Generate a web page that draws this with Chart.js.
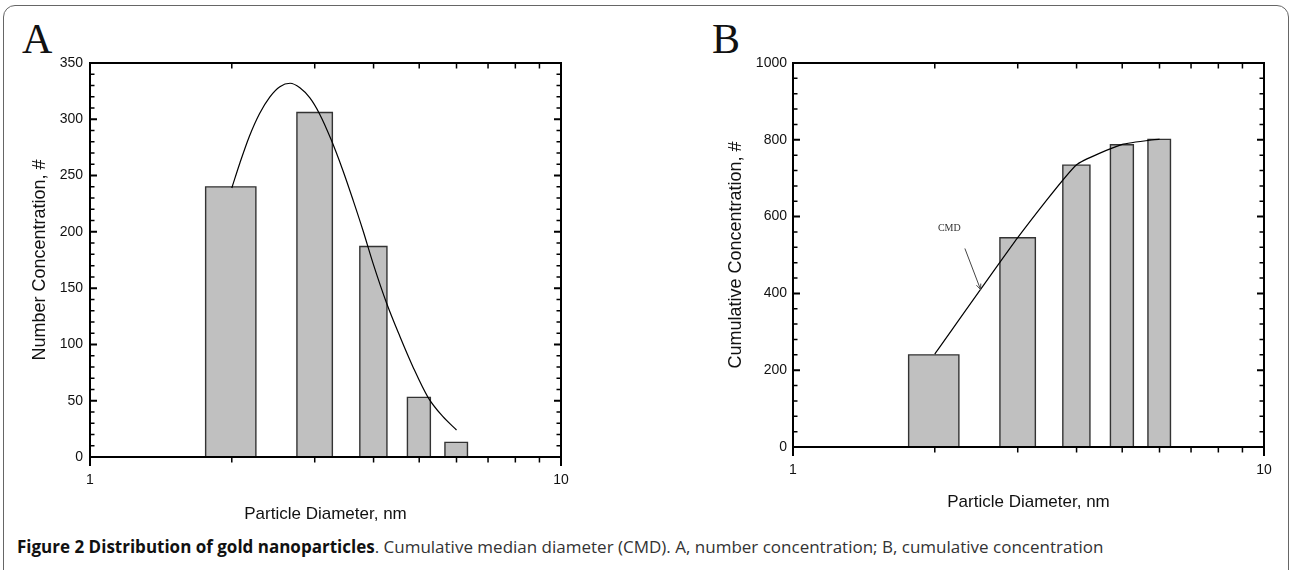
<!DOCTYPE html>
<html>
<head>
<meta charset="utf-8">
<script src="https://cdn.jsdelivr.net/npm/chart.js@4.4.0/dist/chart.umd.min.js"></script>
<style>
    html, body { margin: 0; padding: 0; background: #fff; }
    body { width: 1290px; height: 570px; position: relative; overflow: hidden; }
    .frame {
        position: absolute; left: 3px; top: 5px; width: 1286px; height: 600px;
        border: 1px solid #666; border-radius: 12px; box-sizing: border-box;
    }
    .panel { position: absolute; top: 0; }
    .letter {
        position: absolute; font-family: 'Liberation Serif', 'Times New Roman', serif;
        font-size: 42px; line-height: 42px; color: #111;
    }
    .caption {
        position: absolute; left: 17px; top: 537px; white-space: nowrap;
        font-family: 'Open Sans', sans-serif; font-size: 17px; line-height: 20px; color: #333;
    }
    .caption b { color: #111; }
</style>
</head>
<body>
<div class="frame"></div>
<div class="letter" style="left:22px; top:18px;">A</div>
<div class="letter" style="left:712px; top:18px;">B</div>
<canvas id="chartA" class="panel" style="left:0px;" width="645" height="530"></canvas>
<canvas id="chartB" class="panel" style="left:645px;" width="645" height="520"></canvas>
<div class="caption"><b>Figure 2 Distribution of gold nanoparticles</b>. Cumulative median diameter (CMD). A, number concentration; B, cumulative concentration</div>

<script>
// Data yang dibaca dari gambar
const binLow = [1.76, 2.75, 3.74, 4.72, 5.67];
const binHigh = [2.25, 3.27, 4.27, 5.28, 6.33];
const numberConc = [240, 306, 187, 53, 13];
const cumulativeConc = [240, 545, 734, 787, 801];

// Kurva fit di panel A
const fitDiam = [2.00, 2.08, 2.18, 2.29, 2.41, 2.53, 2.66, 2.79, 2.93, 3.07, 3.25,
                 3.44, 3.62, 3.80, 3.99, 4.26, 4.55, 4.85, 5.22, 5.61, 6.00];
const fitNumber = [239, 261, 285, 305, 320, 329, 332, 328, 319, 305, 282,
                   255, 228, 201, 172, 137, 107, 80, 53, 36, 24];

// Garis CMD di panel B
const cmdDiam = [2.0, 3.0, 4.0, 5.0, 6.0];
const cmdCum = [242, 545, 735, 788, 802];

// Label sumbu
const xTickLabels = [1, 10];
const xMinorTicks = [2, 3, 4, 5, 6, 7, 8, 9];
const yTicksA = [0, 50, 100, 150, 200, 250, 300, 350];
const yTicksB = [0, 200, 400, 600, 800, 1000];

// Anotasi CMD (koordinat data)
const cmdLabelAt = [2.147, 569];
const cmdArrowFrom = [2.317, 517];
const cmdArrowTo = [2.502, 410];

Chart.defaults.font.family = "'Liberation Sans', Arial, sans-serif";
Chart.defaults.color = '#111';
Chart.defaults.animation = false;

// Bingkai kotak + tick ke dalam ala grafik aslinya
const frameTicks = {
    id: 'frameTicks',
    afterDatasetsDraw(chart, args, opts) {
        const { ctx, chartArea: a, scales: { x, y } } = chart;
        ctx.save();
        ctx.strokeStyle = '#000';
        ctx.lineCap = 'butt';

        // tick y (major + minor) di kiri dan kanan
        const n = Math.round((y.max - y.min) / opts.yMinor);
        for (let i = 0; i <= n; i++) {
            const v = y.min + i * opts.yMinor;
            const py = y.getPixelForValue(v);
            const major = i % opts.minorPerMajor === 0;
            const len = major ? 7 : 4.5;
            ctx.lineWidth = major ? 2 : 1.5;
            ctx.beginPath();
            ctx.moveTo(a.left, py); ctx.lineTo(a.left + len, py);
            ctx.moveTo(a.right, py); ctx.lineTo(a.right - len, py);
            ctx.stroke();
        }

        // tick x log: atas ke dalam, bawah ke luar
        ctx.lineWidth = 1.5;
        xMinorTicks.forEach(v => {
            const px = x.getPixelForValue(v);
            ctx.beginPath();
            ctx.moveTo(px, a.top); ctx.lineTo(px, a.top + 5.5);
            ctx.moveTo(px, a.bottom); ctx.lineTo(px, a.bottom + 5.5);
            ctx.stroke();
        });
        ctx.lineWidth = 2;
        xTickLabels.forEach(v => {
            const px = x.getPixelForValue(v);
            ctx.beginPath();
            ctx.moveTo(px, a.bottom); ctx.lineTo(px, a.bottom + 9);
            ctx.stroke();
        });

        ctx.lineWidth = 2;
        ctx.strokeRect(a.left, a.top, a.right - a.left, a.bottom - a.top);
        ctx.restore();
    }
};

// Tulisan "CMD" dan panahnya
const cmdNote = {
    id: 'cmdNote',
    afterDatasetsDraw(chart, args, opts) {
        if (!opts.show) return;
        const { ctx, scales: { x, y } } = chart;
        ctx.save();
        ctx.font = "10px 'Liberation Serif', serif";
        ctx.fillStyle = '#333';
        ctx.textAlign = 'center';
        ctx.textBaseline = 'middle';
        ctx.fillText('CMD', x.getPixelForValue(cmdLabelAt[0]), y.getPixelForValue(cmdLabelAt[1]));

        const x0 = x.getPixelForValue(cmdArrowFrom[0]), y0 = y.getPixelForValue(cmdArrowFrom[1]);
        const x1 = x.getPixelForValue(cmdArrowTo[0]), y1 = y.getPixelForValue(cmdArrowTo[1]);
        ctx.strokeStyle = '#444';
        ctx.lineWidth = 1;
        ctx.beginPath();
        ctx.moveTo(x0, y0); ctx.lineTo(x1, y1);
        const ang = Math.atan2(y1 - y0, x1 - x0);
        ctx.moveTo(x1 - 6 * Math.cos(ang - 0.4), y1 - 6 * Math.sin(ang - 0.4));
        ctx.lineTo(x1, y1);
        ctx.lineTo(x1 - 6 * Math.cos(ang + 0.4), y1 - 6 * Math.sin(ang + 0.4));
        ctx.stroke();
        ctx.restore();
    }
};

// Tiap bin jadi kotak (garis tertutup yang diisi ke nol)
function barDatasets(values) {
    return values.map((v, i) => ({
        data: [
            { x: binLow[i], y: 0 }, { x: binLow[i], y: v },
            { x: binHigh[i], y: v }, { x: binHigh[i], y: 0 }
        ],
        fill: 'origin',
        backgroundColor: '#c0c0c0',
        borderColor: '#333',
        borderWidth: 1.4,
        pointRadius: 0,
        tension: 0,
        order: 1
    }));
}

function buatChart(id, cfg) {
    const curve = {
        data: cfg.lineX.map((d, i) => ({ x: d, y: cfg.lineY[i] })),
        fill: false,
        borderColor: '#000',
        borderWidth: 1.2,
        pointRadius: 0,
        tension: cfg.tension,
        cubicInterpolationMode: cfg.monotone ? 'monotone' : 'default',
        order: 0
    };

    return new Chart(document.getElementById(id), {
        type: 'line',
        data: { datasets: [curve, ...barDatasets(cfg.bars)] },
        options: {
            responsive: false,
            layout: { padding: { left: 0, top: 63, right: cfg.padRight, bottom: 0 } },
            plugins: {
                legend: { display: false },
                tooltip: { enabled: false },
                frameTicks: { yMinor: cfg.yMinor, minorPerMajor: 5 },
                cmdNote: { show: cfg.showCmd }
            },
            scales: {
                x: {
                    type: 'logarithmic',
                    min: 1, max: 10,
                    grid: { display: false, drawTicks: false },
                    border: { display: false },
                    afterBuildTicks: s => { s.ticks = xTickLabels.map(v => ({ value: v })); },
                    afterFit: s => { s.height = cfg.xHeight; },
                    ticks: {
                        padding: 15, maxRotation: 0, autoSkip: false,
                        font: { size: 14 },
                        callback: v => String(v)
                    },
                    title: {
                        display: true, text: 'Particle Diameter, nm',
                        font: { size: 17 }, padding: { top: 0, bottom: cfg.xTitlePad }
                    }
                },
                y: {
                    type: 'linear',
                    min: 0, max: cfg.yMax,
                    grid: { display: false, drawTicks: false },
                    border: { display: false },
                    afterBuildTicks: s => { s.ticks = cfg.yTicks.map(v => ({ value: v })); },
                    afterFit: s => { s.width = cfg.yWidth; },
                    ticks: { padding: cfg.yTickPad, font: { size: 14 }, callback: v => String(v) },
                    title: {
                        display: true, text: cfg.yTitle,
                        font: { size: 18 }, padding: { top: cfg.yTitlePad, bottom: 0 }
                    }
                }
            }
        },
        plugins: [frameTicks, cmdNote]
    });
}

buatChart('chartA', {
    bars: numberConc, lineX: fitDiam, lineY: fitNumber, tension: 0.4, monotone: true,
    yMax: 350, yTicks: yTicksA, yMinor: 10, yTitle: 'Number Concentration, #',
    yWidth: 90, padRight: 84, xHeight: 73, yTickPad: 7, yTitlePad: 29, xTitlePad: 5,
    showCmd: false
});

buatChart('chartB', {
    bars: cumulativeConc, lineX: cmdDiam, lineY: cmdCum, tension: 0.15, monotone: false,
    yMax: 1000, yTicks: yTicksB, yMinor: 40, yTitle: 'Cumulative Concentration, #',
    yWidth: 148, padRight: 26, xHeight: 73, yTickPad: 6, yTitlePad: 80, xTitlePad: 7,
    showCmd: true
});
</script>
</body>
</html>
